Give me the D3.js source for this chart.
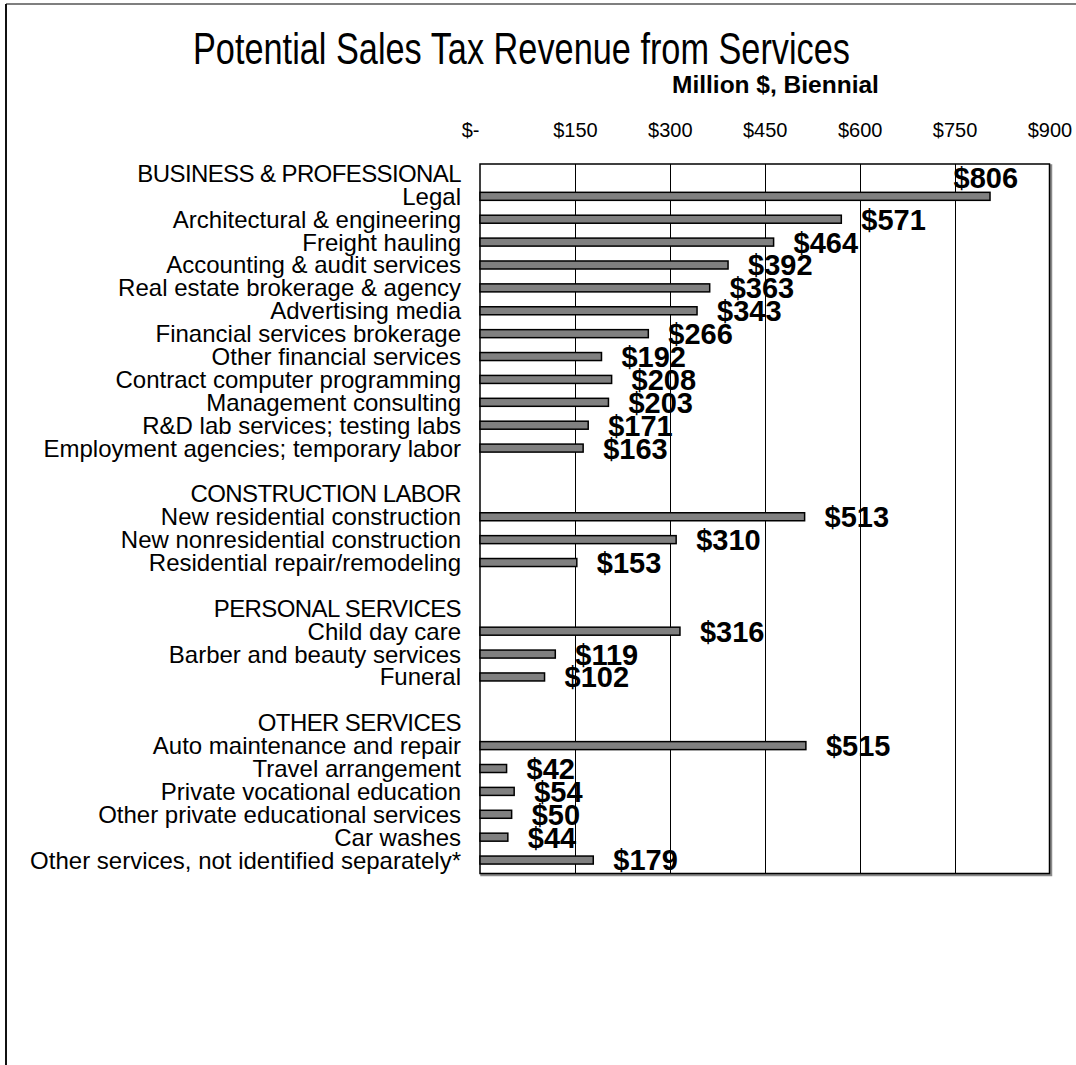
<!DOCTYPE html>
<html>
<head>
<meta charset="utf-8">
<script src="https://cdn.jsdelivr.net/npm/d3@7"></script>
<style>
  html, body { margin: 0; padding: 0; background: #fff; }
  svg { display: block; font-family: "Liberation Sans", Arial, sans-serif; }
</style>
</head>
<body>
<svg id="chart" width="1076" height="1065"></svg>
<script>
// Section headings and the services under each, with potential revenue (million $, biennial)
const groupNames = ["BUSINESS & PROFESSIONAL", "CONSTRUCTION LABOR", "PERSONAL SERVICES", "OTHER SERVICES"];

const businessServices = [
  "Legal", "Architectural & engineering", "Freight hauling", "Accounting & audit services",
  "Real estate brokerage & agency", "Advertising media", "Financial services brokerage",
  "Other financial services", "Contract computer programming", "Management consulting",
  "R&D lab services; testing labs", "Employment agencies; temporary labor"
];
const businessValues = [806, 571, 464, 392, 363, 343, 266, 192, 208, 203, 171, 163];

const constructionServices = [
  "New residential construction", "New nonresidential construction", "Residential repair/remodeling"
];
const constructionValues = [513, 310, 153];

const personalServices = ["Child day care", "Barber and beauty services", "Funeral"];
const personalValues = [316, 119, 102];

const otherServices = [
  "Auto maintenance and repair", "Travel arrangement", "Private vocational education",
  "Other private educational services", "Car washes", "Other services, not identified separately*"
];
const otherValues = [515, 42, 54, 50, 44, 179];

const tickValues = [0, 150, 300, 450, 600, 750, 900];
const tickLabels = ["$-", "$150", "$300", "$450", "$600", "$750", "$900"];

// Flatten into rows: heading, services, then a spacer before the next heading
const groupServices = [businessServices, constructionServices, personalServices, otherServices];
const groupValues = [businessValues, constructionValues, personalValues, otherValues];
const rows = [];
groupNames.forEach((g, gi) => {
  if (gi > 0) rows.push({ label: "", value: null });
  rows.push({ label: g, value: null, heading: true });
  groupServices[gi].forEach((s, si) => rows.push({ label: s, value: groupValues[gi][si] }));
});

const svg = d3.select("#chart");
const plot = { left: 480, right: 1049.5, top: 164, bottom: 873.5 };

const x = d3.scaleLinear().domain([0, 900]).range([plot.left, plot.right]);
const y = d3.scaleBand().domain(d3.range(rows.length)).range([plot.top, plot.bottom]).padding(0);
const barH = 8;
const barCenter = i => y(i) + y.bandwidth() / 2 - 2;

// Outer chart frame (runs past the page edges)
svg.append("line").attr("x1", 6).attr("y1", 4).attr("x2", 1076).attr("y2", 4)
  .attr("stroke", "#555").attr("stroke-width", 1.5);
svg.append("line").attr("x1", 6).attr("y1", 4).attr("x2", 6).attr("y2", 1065)
  .attr("stroke", "#111").attr("stroke-width", 2);

// Title and subtitle
svg.append("text")
  .attr("x", 193).attr("y", 64)
  .attr("font-size", 45)
  .attr("textLength", 657).attr("lengthAdjust", "spacingAndGlyphs")
  .attr("fill", "#000")
  .text("Potential Sales Tax Revenue from Services");

svg.append("text")
  .attr("x", 672).attr("y", 93)
  .attr("font-size", 24.5).attr("font-weight", "bold")
  .attr("fill", "#000")
  .text("Million $, Biennial");

// Plot area: shadowed right/bottom edges
svg.append("rect")
  .attr("x", plot.left + 1.5).attr("y", plot.top + 1.5)
  .attr("width", plot.right - plot.left).attr("height", plot.bottom - plot.top)
  .attr("fill", "none").attr("stroke", "#8a8a8a").attr("stroke-width", 2.5);
svg.append("rect")
  .attr("x", plot.left).attr("y", plot.top)
  .attr("width", plot.right - plot.left).attr("height", plot.bottom - plot.top)
  .attr("fill", "#fff").attr("stroke", "#000").attr("stroke-width", 1.5);

// Vertical gridlines
svg.append("g").selectAll("line")
  .data(tickValues.slice(1, -1))
  .join("line")
  .attr("x1", d => Math.round(x(d)) + 0.5).attr("x2", d => Math.round(x(d)) + 0.5)
  .attr("y1", plot.top).attr("y2", plot.bottom)
  .attr("stroke", "#000").attr("stroke-width", 1);

// Top axis labels
const axis = d3.axisTop(x).tickValues(tickValues)
  .tickFormat((d, i) => tickLabels[i]).tickSize(0).tickPadding(0);
const axisG = svg.append("g").attr("transform", "translate(0,137)").call(axis);
axisG.select(".domain").remove();
axisG.selectAll("text")
  .attr("font-size", 20).attr("font-family", "'Liberation Sans', Arial, sans-serif")
  .attr("fill", "#000").attr("dy", 0)
  .attr("text-anchor", d => d === 0 ? "end" : "middle")
  .attr("dx", d => d === 0 ? -1 : 0);

// Category labels
svg.append("g").selectAll("text")
  .data(rows.map((r, i) => ({ ...r, i })).filter(r => r.label))
  .join("text")
  .attr("x", 461).attr("y", d => barCenter(d.i) + 8.5)
  .attr("text-anchor", "end")
  .attr("font-size", 24)
  .attr("letter-spacing", d => d.heading ? -0.6 : 0)
  .attr("fill", "#000")
  .text(d => d.label);

const valued = rows.map((r, i) => ({ ...r, i })).filter(r => r.value !== null);

// Bars
svg.append("g").selectAll("rect")
  .data(valued)
  .join("rect")
  .attr("x", x(0))
  .attr("y", d => barCenter(d.i) - barH / 2)
  .attr("width", d => x(d.value) - x(0))
  .attr("height", barH)
  .attr("fill", "#808080").attr("stroke", "#000").attr("stroke-width", 1.5);

// Value labels; ones that would run off the page sit above their bar instead
const labelFont = 29;
const labelGap = 20;
const labelW = s => s.length * 0.556 * labelFont;
svg.append("g").selectAll("text")
  .data(valued)
  .join("text")
  .each(function (d) {
    const s = "$" + d.value;
    const sx = x(d.value) + labelGap;
    const t = d3.select(this).text(s)
      .attr("font-size", labelFont).attr("font-weight", "bold").attr("fill", "#000");
    if (sx + labelW(s) > 1070) {
      t.attr("x", x(d.value) + 28).attr("text-anchor", "end")
        .attr("y", barCenter(d.i) - 19 + labelFont * 0.36);
    } else {
      t.attr("x", sx).attr("text-anchor", "start")
        .attr("y", barCenter(d.i) + labelFont * 0.36);
    }
  });
</script>
</body>
</html>
